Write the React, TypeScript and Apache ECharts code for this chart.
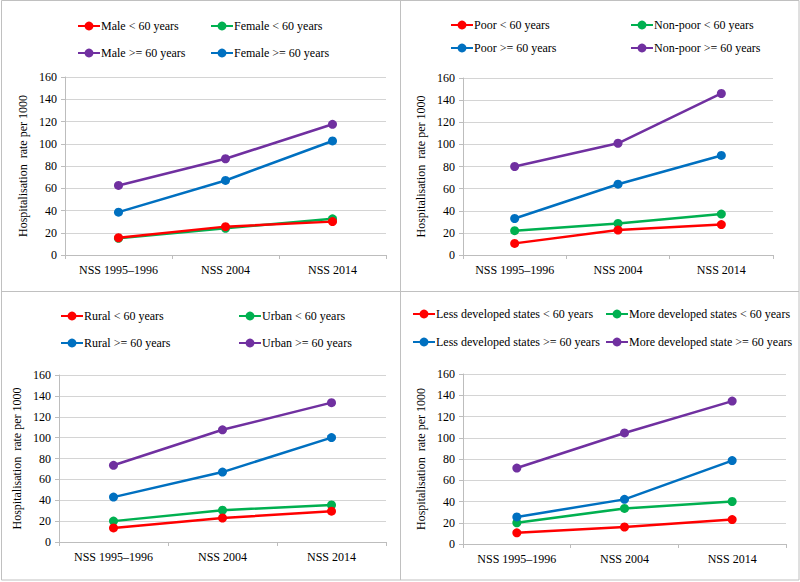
import React, { useEffect, useRef } from "react";
import * as echarts from "echarts";

const categories = ["NSS 1995–1996", "NSS 2004", "NSS 2014"];
const yMin = 0;
const yMax = 160;
const yStep = 20;

// Panel 1: sex
const p1Names = ["Male < 60 years", "Female < 60 years", "Male >= 60 years", "Female >= 60 years"];
const maleUnder60 = [15.5, 25.5, 30];
const femaleUnder60 = [15, 24, 32.5];
const maleOver60 = [62.5, 86.5, 117.5];
const femaleOver60 = [38.5, 67, 102.5];

// Panel 2: economic status
const p2Names = ["Poor < 60 years", "Non-poor < 60 years", "Poor >= 60 years", "Non-poor >= 60 years"];
const poorUnder60 = [10.5, 22.5, 27.5];
const nonPoorUnder60 = [22, 28.5, 37];
const poorOver60 = [33, 64, 90];
const nonPoorOver60 = [80, 101, 146];

// Panel 3: residence
const p3Names = ["Rural < 60 years", "Urban < 60 years", "Rural >= 60 years", "Urban >= 60 years"];
const ruralUnder60 = [13.5, 23, 29.5];
const urbanUnder60 = [20, 30.5, 35.5];
const ruralOver60 = [43, 67, 100];
const urbanOver60 = [73.5, 107.5, 133.5];

// Panel 4: state development
const p4Names = [
  "Less developed states < 60 years",
  "More developed states < 60 years",
  "Less developed states >= 60 years",
  "More developed state >= 60 years",
];
const lessUnder60 = [10.5, 16, 23];
const moreUnder60 = [20, 33.5, 40];
const lessOver60 = [25.5, 42, 78.5];
const moreOver60 = [71.5, 104.5, 134.5];

const RED = "#FF0000";
const GREEN = "#00B050";
const BLUE = "#0070C0";
const PURPLE = "#7030A0";

const FONT = "Liberation Serif";

const panels = [
  {
    names: p1Names,
    data: [maleUnder60, femaleUnder60, maleOver60, femaleOver60],
    colors: [RED, GREEN, PURPLE, BLUE],
    grid: { left: 65, top: 77, width: 321, height: 178 },
    legendPos: [[77, 26], [210, 26], [77, 53], [210, 53]],
  },
  {
    names: p2Names,
    data: [poorUnder60, nonPoorUnder60, poorOver60, nonPoorOver60],
    colors: [RED, GREEN, BLUE, PURPLE],
    grid: { left: 463, top: 78, width: 310, height: 177 },
    legendPos: [[450, 25], [630, 25], [450, 48], [630, 48]],
  },
  {
    names: p3Names,
    data: [ruralUnder60, urbanUnder60, ruralOver60, urbanOver60],
    colors: [RED, GREEN, BLUE, PURPLE],
    grid: { left: 59, top: 375, width: 327, height: 167 },
    legendPos: [[60, 316], [238, 316], [60, 343], [238, 343]],
  },
  {
    names: p4Names,
    data: [lessUnder60, moreUnder60, lessOver60, moreOver60],
    colors: [RED, GREEN, BLUE, PURPLE],
    grid: { left: 463, top: 374, width: 323, height: 170 },
    legendPos: [[412, 314], [605, 314], [412, 342], [605, 342]],
  },
];

export default function App() {
  const ref = useRef<HTMLDivElement>(null);

  useEffect(() => {
    if (!ref.current) return;
    const chart = echarts.init(ref.current, null, { renderer: "svg" });

    const grids: any[] = [];
    const xAxes: any[] = [];
    const yAxes: any[] = [];
    const series: any[] = [];
    const legends: any[] = [];

    panels.forEach((p, pi) => {
      grids.push({ ...p.grid, containLabel: false });
      xAxes.push({
        type: "category",
        gridIndex: pi,
        data: categories,
        boundaryGap: true,
        axisLine: { show: true, lineStyle: { color: "#bdbdbd", width: 1 } },
        axisTick: { show: true, length: 4, lineStyle: { color: "#bdbdbd" } },
        axisLabel: { color: "#000", fontFamily: FONT, fontSize: 12, margin: 9 },
        splitLine: { show: false },
      });
      yAxes.push({
        type: "value",
        gridIndex: pi,
        min: yMin,
        max: yMax,
        interval: yStep,
        name: "Hospitalisation  rate per 1000",
        nameLocation: "middle",
        nameGap: 36,
        nameTextStyle: { color: "#000", fontFamily: FONT, fontSize: 12 },
        axisLine: { show: true, lineStyle: { color: "#bdbdbd", width: 1 } },
        axisTick: { show: true, length: 4, lineStyle: { color: "#bdbdbd" } },
        axisLabel: { color: "#000", fontFamily: FONT, fontSize: 12, margin: 8 },
        splitLine: { show: true, lineStyle: { color: "#d4d4d4", width: 1 } },
      });
      p.names.forEach((name, si) => {
        series.push({
          type: "line",
          name,
          xAxisIndex: pi,
          yAxisIndex: pi,
          data: p.data[si],
          symbol: "circle",
          symbolSize: 9,
          lineStyle: { color: p.colors[si], width: 2.5 },
          itemStyle: { color: p.colors[si] },
          z: si === 0 ? 3 : 2,
        });
        const [lx, ly] = p.legendPos[si];
        legends.push({
          data: [name],
          left: lx,
          top: ly - 6,
          padding: 0,
          itemWidth: 22,
          itemHeight: 11,
          itemGap: 0,
          selectedMode: false,
          textStyle: {
            color: "#000",
            fontFamily: FONT,
            fontSize: 12,
            padding: [0, 0, 0, -4],
          },
        });
      });
    });

    const borderColor = "#c0c0c0";
    const graphic = [
      { type: "rect", shape: { x: 1.5, y: 0.5, width: 797.5, height: 579.5 }, style: { fill: "none", stroke: borderColor, lineWidth: 1 } },
      { type: "line", shape: { x1: 400.5, y1: 0.5, x2: 400.5, y2: 580 }, style: { stroke: borderColor, lineWidth: 1 } },
      { type: "line", shape: { x1: 1.5, y1: 291.5, x2: 799, y2: 291.5 }, style: { stroke: borderColor, lineWidth: 1 } },
    ];

    chart.setOption({
      animation: false,
      backgroundColor: "#ffffff",
      textStyle: { fontFamily: FONT },
      grid: grids,
      xAxis: xAxes,
      yAxis: yAxes,
      legend: legends,
      series,
      graphic,
    });

    return () => {
      chart.dispose();
    };
  }, []);

  return (
    <div
      ref={ref}
      style={{ position: "fixed", left: 0, top: 0, width: 800, height: 582, background: "#fff" }}
    />
  );
}
